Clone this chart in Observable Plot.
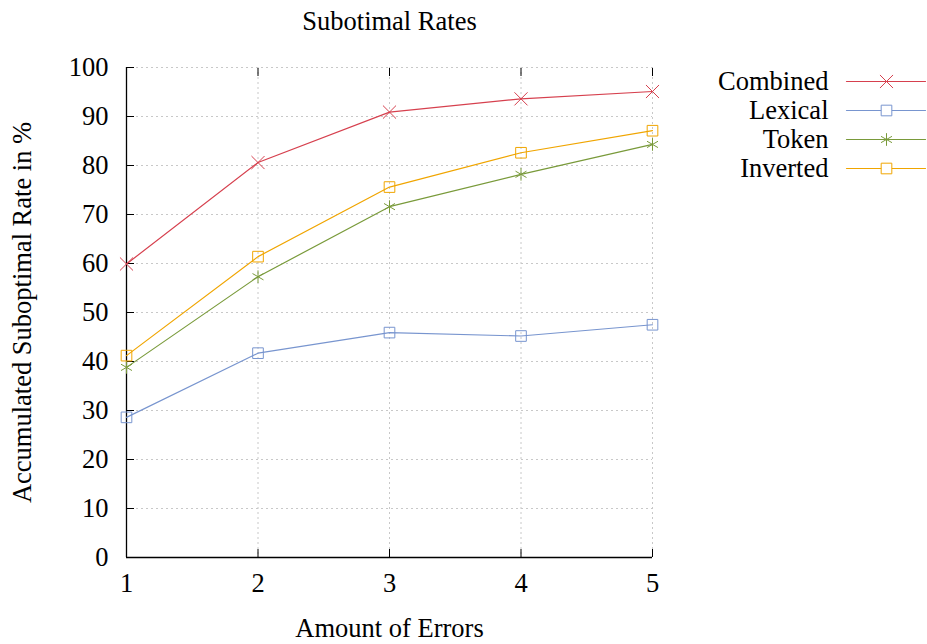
<!DOCTYPE html>
<html>
<head>
<meta charset="utf-8">
<script src="https://cdn.jsdelivr.net/npm/d3@7"></script>
<script src="https://cdn.jsdelivr.net/npm/@observablehq/plot@0.6"></script>
<style>
  html, body { margin: 0; padding: 0; background: #fff; }
  #chart svg { display: block; }
</style>
</head>
<body>
<div id="chart"></div>
<script>
const errors = [1, 2, 3, 4, 5];
const seriesNames = ["Combined", "Lexical", "Token", "Inverted"];
const combined = [59.9, 80.6, 90.9, 93.6, 95.1];
const lexical = [28.6, 41.7, 45.9, 45.2, 47.5];
const token = [38.8, 57.3, 71.6, 78.2, 84.3];
const inverted = [41.2, 61.4, 75.6, 82.6, 87.1];
const yTicks = [0, 10, 20, 30, 40, 50, 60, 70, 80, 90, 100];
const xTicks = [1, 2, 3, 4, 5];
const colors = ["#d6404e", "#7895cf", "#799a3a", "#f0a500"];
const symbols = ["times", "square", "asterisk", "square"];

const valuesBySeries = [combined, lexical, token, inverted];
const rows = [];
seriesNames.forEach((s, i) => errors.forEach((e, j) => rows.push({series: s, x: e, y: valuesBySeries[i][j]})));

const font = "'Liberation Serif', 'Times New Roman', serif";
const FS = 26.5;

const legendMarks = [];
seriesNames.forEach((s, i) => {
  const dy = 14 + 29 * i;
  legendMarks.push(Plot.text([s], {frameAnchor: "top-right", dx: 176, dy, textAnchor: "end", lineAnchor: "middle", fontSize: FS, fill: "black"}));
  legendMarks.push(Plot.vector([s], {frameAnchor: "top-right", dx: 194, dy, rotate: 90, length: 79, anchor: "start", stroke: d => d, strokeWidth: 1.2,
    shape: {draw(context, l) { context.moveTo(0, 0); context.lineTo(0, -l); }}}));
  legendMarks.push(Plot.dot([s], {frameAnchor: "top-right", dx: 234, dy, symbol: d => d, r: 6, stroke: d => d, fill: "white", strokeWidth: 1}));
});

const chart = Plot.plot({
  width: 927,
  height: 644,
  marginLeft: 126,
  marginRight: 275,
  marginTop: 67,
  marginBottom: 87,
  style: {fontFamily: font, fontSize: FS + "px", background: "white", color: "black"},
  x: {domain: [1, 5], ticks: xTicks},
  y: {domain: [0, 100], ticks: yTicks},
  color: {domain: seriesNames, range: colors},
  symbol: {domain: seriesNames, range: symbols},
  marks: [
    Plot.gridX(xTicks, {stroke: "#c8c8c8", strokeOpacity: 1, strokeDasharray: "2,3"}),
    Plot.gridY(yTicks, {stroke: "#c8c8c8", strokeOpacity: 1, strokeDasharray: "2,3"}),
    Plot.axisY(yTicks, {tickSize: -8, tickFormat: () => "", label: null}),
    Plot.axisY(yTicks, {tickSize: 0, tickPadding: 18, fontSize: FS, tickFormat: d3.format("d"), label: null}),
    Plot.axisX(xTicks, {tickSize: -8, tickFormat: () => "", label: null}),
    Plot.axisX(xTicks, {tickSize: 0, tickPadding: 16, fontSize: FS, tickFormat: d3.format("d"), label: null}),
    Plot.axisX(xTicks, {anchor: "top", tickSize: -8, tickFormat: () => "", label: null}),
    Plot.ruleX([1], {stroke: "black", strokeWidth: 1.3}),
    Plot.ruleY([0], {stroke: "black", strokeWidth: 1.3}),
    Plot.line(rows, {x: "x", y: "y", z: "series", stroke: "series", strokeWidth: 1.2}),
    Plot.dot(rows, {x: "x", y: "y", stroke: "series", symbol: "series", r: 6, fill: "none", strokeWidth: 1}),
    Plot.text(["Subotimal Rates"], {frameAnchor: "top", dy: -46, lineAnchor: "middle", fontSize: FS, fill: "black"}),
    Plot.text(["Amount of Errors"], {frameAnchor: "bottom", dy: 71, lineAnchor: "middle", fontSize: FS, fill: "black"}),
    Plot.text(["Accumulated Suboptimal Rate in %"], {frameAnchor: "left", dx: -104, rotate: -90, lineAnchor: "middle", textAnchor: "middle", fontSize: FS, fill: "black"}),
    ...legendMarks
  ]
});
document.getElementById("chart").appendChild(chart);
</script>
</body>
</html>
